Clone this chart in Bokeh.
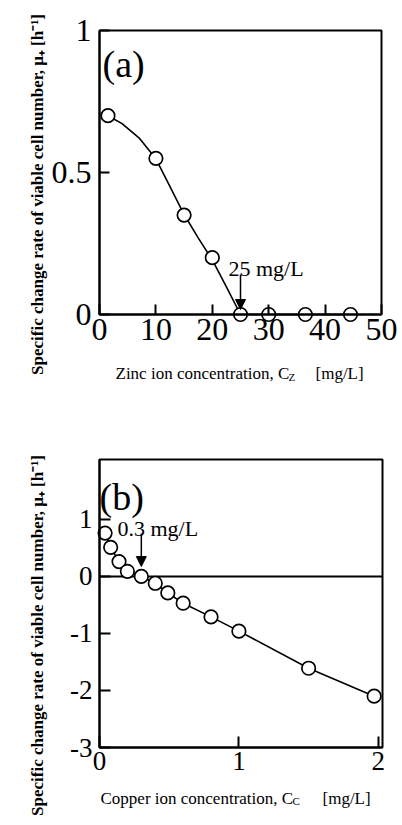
import math
from bokeh.plotting import figure
from bokeh.models import FixedTicker, Label, Arrow, NormalHead, BoxAnnotation, Range1d
from bokeh.layouts import column
from bokeh.embed import file_html
from bokeh.resources import INLINE

# ---------------- data: panel (a) zinc ----------------
zinc_conc = [1.5, 10, 15, 20, 25, 30, 36.5, 44.5]
zinc_mu = [0.70, 0.55, 0.35, 0.20, 0.0, 0.0, 0.0, 0.0]
zinc_fit_conc = [1.5, 4, 7, 10, 12.5, 15, 17.5, 20, 22.5, 25, 30, 36.5, 44.5]
zinc_fit_mu = [0.70, 0.672, 0.622, 0.548, 0.45, 0.352, 0.27, 0.192, 0.097, 0.0, 0.0, 0.0, 0.0]
zinc_xlim = (0, 50)
zinc_ylim = (0, 1)
zinc_xticks = [0, 10, 20, 30, 40, 50]
zinc_yticks = [0, 0.5, 1]
zinc_ylabels = {0: "0", 0.5: "0.5", 1: "1"}
zinc_critical = 25
zinc_critical_text = "25 mg/L"

# ---------------- data: panel (b) copper ----------------
copper_conc = [0.04, 0.08, 0.14, 0.2, 0.3, 0.4, 0.49, 0.6, 0.8, 1.0, 1.5, 1.97]
copper_mu = [0.76, 0.51, 0.26, 0.09, 0.0, -0.12, -0.29, -0.47, -0.71, -0.96, -1.61, -2.10]
copper_xlim = (0, 2.03)
copper_ylim = (-3, 2.05)
copper_xticks = [0, 1, 2]
copper_yticks = [-3, -2, -1, 0, 1]
copper_ylabels = {-3: "-3", -2: "-2", -1: "-1", 0: "0", 1: "1"}
copper_critical = 0.3
copper_critical_text = "0.3 mg/L"

SERIF = "Liberation Serif"
YLABEL = "Specific change rate of viable cell number, \u03bc\u208a [h\u207b\u00b9]"
W = 402


def make_fig(H, box, xlim, ylim):
    # frame covers the whole canvas; the drawn box sits at pixel rectangle `box`
    bl, br, bt, bb = box
    sx = (br - bl) / (xlim[1] - xlim[0])
    sy = (bb - bt) / (ylim[1] - ylim[0])
    p = figure(width=W, height=H, title=None,
               x_range=Range1d(xlim[0] - bl / sx, xlim[1] + (W - br) / sx),
               y_range=Range1d(ylim[0] - (H - bb) / sy, ylim[1] + bt / sy),
               min_border=0, min_border_left=0, min_border_right=0,
               min_border_top=0, min_border_bottom=0,
               toolbar_location=None, output_backend="svg")
    p.xgrid.visible = False
    p.ygrid.visible = False
    p.outline_line_color = None
    p.background_fill_color = "white"
    p.border_fill_color = "white"

    def to_data(px, py):
        return (xlim[0] + (px - bl) / sx, ylim[1] - (py - bt) / sy)

    p.add_layout(BoxAnnotation(left=xlim[0], right=xlim[1], bottom=ylim[0], top=ylim[1],
                               fill_color=None, fill_alpha=0, line_color="black",
                               line_alpha=1.0, line_width=2))
    return p, to_data


def style_axes(p, xlim, ylim, xticks, yticks, font_px, tick_len, xstand, ystand, ylabels):
    xa = p.xaxis[0]
    ya = p.yaxis[0]
    xa.fixed_location = ylim[0]
    ya.fixed_location = xlim[0]
    xa.bounds = xlim
    ya.bounds = ylim
    xa.ticker = FixedTicker(ticks=xticks)
    ya.ticker = FixedTicker(ticks=yticks)
    ya.major_label_overrides = ylabels
    for a in (xa, ya):
        a.major_tick_in = tick_len
        a.major_tick_out = 0
        a.minor_tick_line_color = None
        a.axis_line_width = 2
        a.axis_line_color = "black"
        a.major_tick_line_width = 2
        a.major_tick_line_color = "black"
        a.major_label_text_font = SERIF
        a.major_label_text_font_size = f"{font_px}px"
        a.major_label_text_color = "black"
        a.axis_label = None
    xa.major_label_standoff = xstand
    ya.major_label_standoff = ystand


def add_label(p, xy, text, size, bold=False, angle=0.0, align="left"):
    p.add_layout(Label(x=xy[0], y=xy[1], text=text, text_font=SERIF,
                       text_font_size=f"{size}px", text_color="black",
                       text_font_style="bold" if bold else "normal",
                       text_align=align, text_baseline="alphabetic", angle=angle))


# ================= panel (a) =================
H1 = 412
pa, ta = make_fig(H1, (99, 381, 30, 314), zinc_xlim, zinc_ylim)
style_axes(pa, zinc_xlim, zinc_ylim, zinc_xticks, zinc_yticks, 32, 10, 4, 8, zinc_ylabels)
pa.line(zinc_fit_conc, zinc_fit_mu, line_color="black", line_width=1.6)
pa.scatter(zinc_conc, zinc_mu, size=13.5, marker="circle", fill_color="white",
           line_color="black", line_width=1.7)
a0 = ta(0, 274)
a1 = ta(0, 309)
pa.add_layout(Arrow(end=NormalHead(size=10, fill_color="black", line_color="black"),
                    x_start=zinc_critical, y_start=a0[1], x_end=zinc_critical, y_end=a1[1],
                    line_color="black", line_width=1.5))
add_label(pa, ta(228, 268), zinc_critical_text, 22)
add_label(pa, ta(102, 63), "(a)", 38)
add_label(pa, ta(37, 194), YLABEL, 17, bold=True, angle=math.pi / 2, align="center")
add_label(pa, ta(115, 373), "Zinc ion concentration, C", 17)
add_label(pa, ta(288, 376), "Z", 11)
add_label(pa, ta(315, 373), "[mg/L]", 17)

# ================= panel (b) =================
H2 = 413
OFF = H1
pb, tb_ = make_fig(H2, (99, 382, 459 - OFF, 747 - OFF), copper_xlim, copper_ylim)


def tb(px, py):
    return tb_(px, py - OFF)


style_axes(pb, copper_xlim, copper_ylim, copper_xticks, copper_yticks, 27, 11, 4, 7,
           copper_ylabels)
pb.segment(x0=[copper_xlim[0]], y0=[0], x1=[copper_xlim[1]], y1=[0],
           line_color="black", line_width=2)
pb.line(copper_conc, copper_mu, line_color="black", line_width=1.6)
pb.scatter(copper_conc, copper_mu, size=13.5, marker="circle", fill_color="white",
           line_color="black", line_width=1.7)
b0 = tb(0, 533)
b1 = tb(0, 566)
pb.add_layout(Arrow(end=NormalHead(size=10, fill_color="black", line_color="black"),
                    x_start=copper_critical, y_start=b0[1], x_end=copper_critical, y_end=b1[1],
                    line_color="black", line_width=1.5))
add_label(pb, tb(117, 528), copper_critical_text, 22)
add_label(pb, tb(99, 496), "(b)", 38)
add_label(pb, tb(37, 635), YLABEL, 17, bold=True, angle=math.pi / 2, align="center")
add_label(pb, tb(100, 798), "Copper ion concentration, C", 17)
add_label(pb, tb(292, 800), "C", 11)
add_label(pb, tb(322, 798), "[mg/L]", 17)

layout = column(pa, pb, spacing=0)
open("out.html", "w").write(file_html(layout, INLINE))
